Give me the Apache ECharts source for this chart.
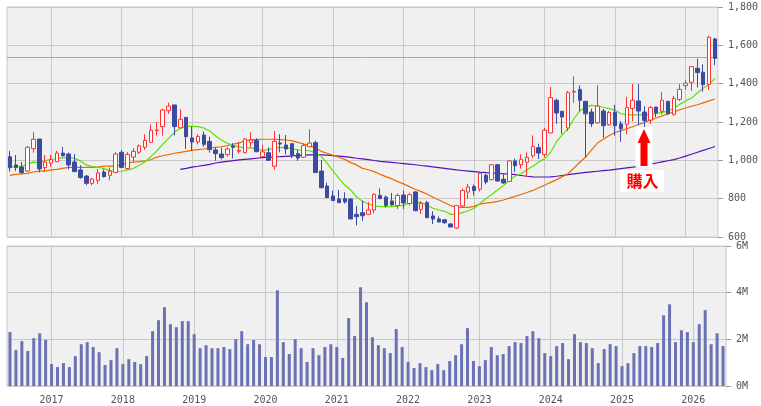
<!DOCTYPE html>
<html>
<head>
<meta charset="utf-8">
<script src="https://cdn.jsdelivr.net/npm/echarts@6/dist/echarts.min.js"></script>
<style>
  html, body { margin: 0; padding: 0; background: #fff; }
  #chart { width: 761px; height: 406px; }
</style>
</head>
<body>
<div id="chart"></div>
<script>
// monthly bars, 2016/06 .. 2026/06
var months = [];
for (var k = 0; k < 121; k++) {
  var m = (5 + k) % 12 + 1;
  months.push((2016 + Math.floor((5 + k) / 12)) + '/' + (m < 10 ? '0' + m : m));
}

// [open, close, low, high]
var candles = [
  [1019,962,941,1049],[976,962,944,1028],[965,936,929,991],[944,1068,939,1075],[1061,1110,1040,1148],
  [1111,955,937,1111],[962,991,941,1028],[986,1003,967,1028],[993,1038,990,1049],[1038,1024,1019,1070],
  [1033,976,953,1040],[991,941,941,1033],[950,910,904,974],[918,880,870,923],[880,903,870,908],
  [896,934,878,955],[939,915,910,953],[922,943,896,963],[937,1033,932,1043],[1042,963,960,1054],
  [957,1031,953,1043],[1017,1047,991,1063],[1042,1075,1033,1083],[1068,1104,1054,1136],[1094,1157,1089,1186],
  [1155,1158,1129,1200],[1177,1263,1129,1270],[1259,1283,1242,1301],[1289,1176,1130,1289],[1170,1214,1170,1266],
  [1224,1123,1059,1224],[1117,1096,1050,1176],[1096,1125,1083,1136],[1132,1083,1071,1150],[1099,1056,1040,1123],
  [1054,1035,998,1068],[1033,1014,1005,1066],[1031,1059,1019,1068],[1075,1068,1010,1089],[1047,1052,1035,1097],
  [1040,1111,1036,1116],[1092,1106,1071,1146],[1103,1045,1042,1115],[1019,1044,1019,1082],[1040,1000,1000,1068],
  [969,1099,951,1153],[1090,1085,1042,1137],[1080,1059,1031,1132],[1087,1028,1012,1090],[1035,1012,997,1057],
  [1016,1077,1012,1089],[1071,1090,1068,1162],[1092,936,936,1103],[944,857,854,1002],[866,806,802,883],
  [814,790,790,842],[798,779,779,846],[800,783,774,833],[798,694,694,803],[718,706,661,762],
  [727,711,684,790],[718,741,715,783],[741,823,724,829],[817,800,800,854],[808,765,754,817],
  [788,767,764,830],[764,817,746,827],[819,777,746,842],[775,821,765,831],[835,737,735,840],
  [744,776,720,786],[779,701,699,789],[710,694,668,734],[694,678,678,706],[690,675,668,694],
  [668,652,652,673],[647,764,643,764],[762,842,755,852],[835,861,800,877],[863,843,817,874],
  [849,932,837,932],[922,887,875,930],[899,977,896,981],[977,892,890,981],[901,882,878,930],
  [890,997,890,1003],[997,972,939,1009],[977,1005,957,1031],[990,1016,915,1042],[1024,1073,1014,1130],
  [1066,1038,1007,1087],[1030,1157,1016,1169],[1143,1327,1143,1383],[1313,1247,1191,1322],[1256,1226,1139,1256],
  [1169,1353,1153,1362],[1356,1360,1300,1438],[1370,1313,1256,1391],[1308,1243,1017,1308],[1252,1191,1174,1270],
  [1196,1283,1190,1391],[1257,1181,1118,1268],[1186,1250,1181,1257],[1250,1181,1129,1289],[1190,1165,1097,1205],
  [1188,1275,1136,1332],[1271,1313,1205,1398],[1310,1257,1184,1398],[1252,1208,1172,1282],[1210,1275,1190,1284],
  [1278,1247,1226,1278],[1256,1313,1240,1357],[1308,1243,1236,1308],[1240,1323,1233,1336],[1318,1370,1310,1397],
  [1390,1402,1367,1419],[1407,1489,1362,1489],[1480,1458,1380,1530],[1460,1395,1358,1501],[1397,1642,1367,1650],
  [1633,1532,1497,1640]
];

// volume, millions of shares
var volumes = [
  2.31,1.54,1.92,1.50,2.05,2.26,1.97,0.94,0.81,0.98,
  0.81,1.28,1.79,1.88,1.67,1.45,0.90,1.11,1.62,0.94,
  1.15,1.03,0.94,1.28,2.35,2.82,3.38,2.65,2.52,2.78,
  2.78,2.22,1.62,1.75,1.62,1.62,1.67,1.58,2.01,2.35,
  1.79,1.97,1.79,1.24,1.24,4.10,1.88,1.37,2.01,1.62,
  1.03,1.62,1.32,1.67,1.79,1.67,1.20,2.91,2.14,4.23,
  3.59,2.09,1.75,1.62,1.41,2.44,1.67,1.03,0.77,0.98,
  0.81,0.68,0.94,0.68,1.07,1.32,1.79,2.48,1.07,0.85,
  1.11,1.67,1.32,1.37,1.71,1.88,1.84,2.14,2.35,2.05,
  1.41,1.28,1.71,1.84,1.15,2.22,1.88,1.84,1.62,0.98,
  1.58,1.79,1.71,0.85,0.98,1.41,1.71,1.71,1.67,1.84,
  3.03,3.50,1.88,2.39,2.31,1.88,2.65,3.25,1.79,2.26,1.71
];

// moving averages as drawn
var maShort = [
  962,970,967,981,991,988,998,1007,1007,1014,
  1014,1010,997,976,967,965,957,948,939,943,
  950,957,974,993,1019,1049,1083,1115,1146,1167,
  1177,1177,1176,1169,1153,1127,1106,1089,1077,1070,
  1064,1066,1057,1052,1056,1064,1068,1066,1061,1054,
  1054,1050,1038,1021,984,944,906,871,845,810,
  786,772,762,758,758,758,762,765,777,780,
  779,767,750,741,734,718,718,727,737,750,
  775,800,822,845,868,896,918,930,951,969,
  991,1009,1040,1096,1133,1165,1217,1257,1278,1287,
  1283,1277,1270,1261,1243,1237,1237,1237,1237,1240,
  1243,1250,1257,1271,1292,1310,1324,1351,1376,1397,1428
];
var maMid = [
  922,927,929,932,939,944,944,950,953,958,
  963,963,963,963,963,965,970,970,970,979,
  985,990,993,997,1003,1017,1024,1030,1037,1042,
  1047,1052,1056,1059,1063,1068,1071,1077,1085,1090,
  1102,1107,1109,1110,1110,1110,1108,1106,1103,1094,
  1085,1078,1064,1047,1037,1026,1016,1005,988,976,
  958,951,941,927,915,903,889,877,863,849,
  837,824,807,793,779,764,755,755,755,760,
  772,777,781,786,793,803,812,822,832,843,
  857,870,885,898,915,930,960,990,1017,1055,
  1090,1110,1130,1145,1155,1165,1175,1187,1198,1210,
  1221,1232,1243,1253,1264,1273,1282,1290,1300,1310,1320
];
var maLong = [
  null,null,null,null,null,null,null,null,null,null,
  null,null,null,null,null,null,null,null,null,null,
  null,null,null,null,null,null,null,null,null,953,
  958,965,969,974,979,986,991,995,998,1002,
  1005,1008,1011,1014,1016,1018,1019,1021,1023,1025,
  1027,1028,1028,1028,1027,1025,1022,1019,1015,1011,
  1008,1004,999,995,992,989,986,983,980,977,
  973,970,966,962,958,954,950,947,944,941,
  938,936,934,932,930,928,925,921,917,914,
  913,913,914,917,921,925,929,933,937,940,
  943,946,949,953,957,961,965,970,975,980,
  986,992,998,1004,1012,1022,1032,1042,1052,1062,1072
];

var refPrice = 1538;
var buyMonth = '2025/06';
var buyPrice = 1164;

var yearStarts = months.filter(function (m) { return m.slice(5) === '01'; });

var gridColor = '#c8c8c8';
var labelFont = { color: '#555', fontFamily: 'DejaVu Sans Mono', fontSize: 10 };

function yearLines(extra) {
  var data = yearStarts.map(function (m) { return { xAxis: m }; });
  return {
    z: 1, silent: true, symbol: ['none', 'none'], label: { show: false },
    lineStyle: { color: gridColor, type: 'solid', width: 1 },
    emphasis: { disabled: true },
    data: data.concat(extra || [])
  };
}

var chart = echarts.init(document.getElementById('chart'));

var option = {
  animation: false,
  backgroundColor: '#fff',
  grid: [
    { left: 7, top: 7, width: 719, height: 230, show: true, backgroundColor: '#f0f0f0', borderColor: gridColor, borderWidth: 1 },
    { left: 7, top: 246, width: 719, height: 140, show: true, backgroundColor: '#f0f0f0', borderColor: gridColor, borderWidth: 1 }
  ],
  xAxis: [
    { type: 'category', gridIndex: 0, data: months, boundaryGap: true,
      axisLine: { show: false }, axisTick: { show: false }, axisLabel: { show: false }, splitLine: { show: false } },
    { type: 'category', gridIndex: 1, data: months, boundaryGap: true,
      axisLine: { show: false }, axisTick: { show: false }, splitLine: { show: false },
      axisLabel: Object.assign({
        margin: 9,
        interval: function (idx, val) { return val.slice(5) === '01'; },
        formatter: function (val) { return val.slice(0, 4); }
      }, labelFont) }
  ],
  yAxis: [
    { type: 'value', gridIndex: 0, position: 'right', min: 600, max: 1800, interval: 200,
      axisLine: { show: false },
      axisTick: { show: true, length: 5, lineStyle: { color: '#999' } },
      axisLabel: Object.assign({ margin: 10 }, labelFont),
      splitLine: { lineStyle: { color: gridColor, width: 1 } } },
    { type: 'value', gridIndex: 1, position: 'right', min: 0, max: 6, interval: 2,
      axisLine: { show: false },
      axisTick: { show: true, length: 5, lineStyle: { color: '#999' } },
      axisLabel: Object.assign({ margin: 10, formatter: function (v) { return v + 'M'; } }, labelFont),
      splitLine: { lineStyle: { color: gridColor, width: 1 } } }
  ],
  series: [
    { type: 'line', xAxisIndex: 0, yAxisIndex: 0, data: [], z: 1,
      markLine: yearLines([{ yAxis: refPrice, lineStyle: { color: '#f08a8a', type: 'solid', width: 1 } }]) },
    { type: 'line', xAxisIndex: 1, yAxisIndex: 1, data: [], z: 1, markLine: yearLines() },
    { name: 'volume', type: 'bar', xAxisIndex: 1, yAxisIndex: 1, data: volumes, barWidth: 3,
      itemStyle: { color: '#6a72b4' }, z: 3 },
    { name: 'price', type: 'candlestick', xAxisIndex: 0, yAxisIndex: 0, data: candles, barWidth: 4, z: 4,
      itemStyle: { color: '#ffffff', color0: '#3b4ba0', borderColor: '#ff3030', borderColor0: '#3b4ba0', borderWidth: 1 } },
    { name: 'maLong', type: 'line', xAxisIndex: 0, yAxisIndex: 0, data: maLong, symbol: 'none', z: 3,
      lineStyle: { color: '#5510bb', width: 1.2 } },
    { name: 'maMid', type: 'line', xAxisIndex: 0, yAxisIndex: 0, data: maMid, symbol: 'none', z: 3,
      lineStyle: { color: '#ee6a00', width: 1.2 } },
    { name: 'maShort', type: 'line', xAxisIndex: 0, yAxisIndex: 0, data: maShort, symbol: 'none', z: 3,
      lineStyle: { color: '#5ee000', width: 1.2 } }
  ]
};
chart.setOption(option);

// 購入 marker
var p = chart.convertToPixel({ xAxisIndex: 0, yAxisIndex: 0 }, [buyMonth, buyPrice]);
var cx = Math.round(p[0]), ty = Math.round(p[1]);
chart.setOption({
  graphic: [
    { type: 'rect', z: 100, shape: { x: cx - 8.5, y: ty - 2, width: 17, height: 40 }, style: { fill: '#fff' } },
    { type: 'polygon', z: 101, shape: { points: [
        [cx, ty], [cx + 6.5, ty + 14], [cx + 3.5, ty + 14], [cx + 3.5, ty + 37],
        [cx - 3.5, ty + 37], [cx - 3.5, ty + 14], [cx - 6.5, ty + 14]] },
      style: { fill: '#ff0000' } },
    { type: 'rect', z: 100, shape: { x: cx - 24, y: ty + 41, width: 44, height: 22 }, style: { fill: '#fff' } },
    { type: 'text', z: 101, x: cx - 1.5, y: ty + 52,
      style: { text: '購入', fill: '#ff0000', font: 'bold 16px "Noto Sans CJK JP"', align: 'center', verticalAlign: 'middle' } }
  ]
});
</script>
</body>
</html>
